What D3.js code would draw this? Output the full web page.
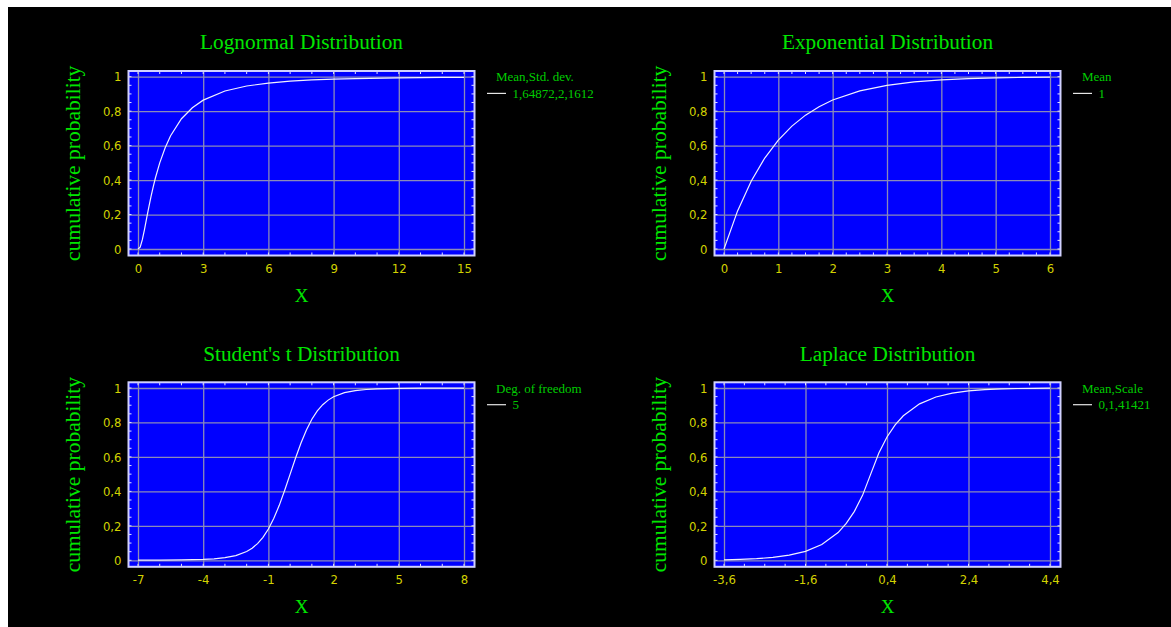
<!DOCTYPE html>
<html>
<head>
<meta charset="utf-8">
<script src="https://cdn.jsdelivr.net/npm/d3@7"></script>
<style>
  body { margin: 0; background: #fff; }
  svg { display: block; }
</style>
</head>
<body>
<div id="wrapper"></div>
<script>
// values
const titles = ['Lognormal Distribution', 'Exponential Distribution', "Student's t Distribution", 'Laplace Distribution'];
const legendTitles = ['Mean,Std. dev.', 'Mean', 'Deg. of freedom', 'Mean,Scale'];
const legendValues = ['1,64872,2,1612', '1', '5', '0,1,41421'];

const lognormalTicks = [0, 3, 6, 9, 12, 15];
const exponentialTicks = [0, 1, 2, 3, 4, 5, 6];
const studentTicks = [-7, -4, -1, 2, 5, 8];
const laplaceTicks = [-3.6, -1.6, 0.4, 2.4, 4.4];
const probTicks = [0, 0.2, 0.4, 0.6, 0.8, 1];

const lognormalPoints = [
  [0, 0], [0.1, 0.011], [0.2, 0.054], [0.3, 0.114], [0.4, 0.18], [0.5, 0.244],
  [0.6, 0.305], [0.7, 0.361], [0.8, 0.412], [1, 0.5], [1.25, 0.588], [1.5, 0.657],
  [2, 0.756], [2.5, 0.82], [3, 0.864], [4, 0.917], [5, 0.946], [6, 0.963],
  [7, 0.974], [8, 0.981], [9, 0.986], [10, 0.989], [12, 0.9935], [14, 0.996], [15, 0.9966]
];
const exponentialPoints = [
  [0, 0], [0.25, 0.221], [0.5, 0.393], [0.75, 0.528], [1, 0.632], [1.25, 0.713],
  [1.5, 0.777], [1.75, 0.826], [2, 0.865], [2.5, 0.918], [3, 0.95], [3.5, 0.97],
  [4, 0.982], [4.5, 0.989], [5, 0.993], [5.5, 0.996], [6, 0.9975]
];
const studentPoints = [
  [-7, 0.0005], [-6, 0.0009], [-5, 0.0021], [-4, 0.0052], [-3.5, 0.0087], [-3, 0.0151],
  [-2.5, 0.0272], [-2, 0.051], [-1.75, 0.0703], [-1.5, 0.097], [-1.25, 0.1333], [-1, 0.1816],
  [-0.75, 0.2435], [-0.5, 0.319], [-0.25, 0.4063], [0, 0.5], [0.25, 0.5937], [0.5, 0.681],
  [0.75, 0.7565], [1, 0.8184], [1.25, 0.8667], [1.5, 0.903], [1.75, 0.9297], [2, 0.949],
  [2.5, 0.9728], [3, 0.9849], [3.5, 0.9913], [4, 0.9948], [5, 0.9979], [6, 0.9991],
  [7, 0.9995], [8, 0.9998]
];
const laplacePoints = [
  [-3.6, 0.003], [-3.2, 0.0054], [-2.8, 0.0095], [-2.4, 0.0168], [-2, 0.0296],
  [-1.6, 0.052], [-1.2, 0.0916], [-0.8, 0.161], [-0.6, 0.214], [-0.4, 0.284],
  [-0.2, 0.377], [0, 0.5], [0.2, 0.623], [0.4, 0.716], [0.6, 0.786], [0.8, 0.839],
  [1.2, 0.908], [1.6, 0.948], [2, 0.97], [2.4, 0.983], [2.8, 0.99], [3.2, 0.9946],
  [3.6, 0.997], [4, 0.998], [4.4, 0.999]
];

const panels = [
  {ticks: lognormalTicks, minor: 1, points: lognormalPoints},
  {ticks: exponentialTicks, minor: 0.25, points: exponentialPoints},
  {ticks: studentTicks, minor: 1, points: studentPoints},
  {ticks: laplaceTicks, minor: 0.5, points: laplacePoints},
];

const width = 1171;
const height = 627;
const commaFormat = d => String(+d.toFixed(4)).replace('.', ',');

const svg = d3.select('#wrapper')
  .append('svg')
  .attr('width', width)
  .attr('height', height);

svg.append('rect')
  .attr('width', width).attr('height', height)
  .attr('fill', '#fff');
svg.append('rect')
  .attr('x', 8).attr('y', 7)
  .attr('width', width - 8).attr('height', height - 7)
  .attr('fill', '#000');

const serif = "'Liberation Serif', 'Times New Roman', serif";
const narrow = "'Liberation Sans Narrow', 'DejaVu Sans Condensed', 'Liberation Sans', sans-serif";

panels.forEach((p, i) => {
  const col = i % 2;
  const row = Math.floor(i / 2);
  const left = 128.5 + col * 586;
  const top = 71 + row * 311.3;
  const w = 346;
  const h = 184.5;

  const lo = p.ticks[0];
  const hi = p.ticks[p.ticks.length - 1];
  const x = d3.scaleLinear().domain([lo, hi]).range([left + 9.5, left + w - 10.5]);
  const y = d3.scaleLinear().domain([0, 1]).range([top + h - 6.5, top + 5.7]);

  const g = svg.append('g');

  g.append('rect')
    .attr('x', left).attr('y', top)
    .attr('width', w).attr('height', h)
    .attr('fill', '#0000ff');

  // grid lines
  g.append('g')
    .attr('transform', `translate(0,${top + h})`)
    .call(d3.axisBottom(x).tickValues(p.ticks).tickSize(-h).tickFormat(''))
    .call(a => a.select('.domain').remove())
    .call(a => a.selectAll('line').attr('stroke', '#8a8ab8').attr('stroke-width', 1.3));
  g.append('g')
    .attr('transform', `translate(${left},0)`)
    .call(d3.axisLeft(y).tickValues(probTicks).tickSize(-w).tickFormat(''))
    .call(a => a.select('.domain').remove())
    .call(a => a.selectAll('line').attr('stroke', '#8a8ab8').attr('stroke-width', 1.3));

  // minor ticks on the four edges, pointing inwards
  const nMinor = Math.round((hi - lo) / p.minor);
  const xMinor = d3.range(nMinor + 1).map(k => lo + k * p.minor);
  const yMinor = d3.range(21).map(k => k * 0.05);
  const tl = 3;
  const ticks = g.append('g')
    .attr('stroke', '#e0e0ff')
    .attr('stroke-width', 1);
  ticks.selectAll('line.xb')
    .data(xMinor).join('line').attr('class', 'xb')
    .attr('x1', d => x(d)).attr('x2', d => x(d))
    .attr('y1', top + h).attr('y2', top + h - tl);
  ticks.selectAll('line.xt')
    .data(xMinor).join('line').attr('class', 'xt')
    .attr('x1', d => x(d)).attr('x2', d => x(d))
    .attr('y1', top).attr('y2', top + tl);
  ticks.selectAll('line.yl')
    .data(yMinor).join('line').attr('class', 'yl')
    .attr('y1', d => y(d)).attr('y2', d => y(d))
    .attr('x1', left).attr('x2', left + tl);
  ticks.selectAll('line.yr')
    .data(yMinor).join('line').attr('class', 'yr')
    .attr('y1', d => y(d)).attr('y2', d => y(d))
    .attr('x1', left + w).attr('x2', left + w - tl);

  g.append('rect')
    .attr('x', left).attr('y', top)
    .attr('width', w).attr('height', h)
    .attr('fill', 'none')
    .attr('stroke', '#d0d0ff')
    .attr('stroke-width', 2);

  // curve
  const line = d3.line().x(d => x(d[0])).y(d => y(d[1]));
  g.append('path')
    .datum(p.points)
    .attr('d', line)
    .attr('fill', 'none')
    .attr('stroke', '#f0f0ff')
    .attr('stroke-width', 1.2);

  // tick labels
  g.append('g')
    .attr('transform', `translate(0,${top + h + 5})`)
    .call(d3.axisBottom(x).tickValues(p.ticks).tickSize(0).tickFormat(commaFormat))
    .call(a => a.select('.domain').remove())
    .call(a => a.selectAll('text')
      .attr('fill', '#d2d200')
      .attr('font-family', narrow)
      .attr('font-size', 13));
  g.append('g')
    .attr('transform', `translate(${left - 4},0)`)
    .call(d3.axisLeft(y).tickValues(probTicks).tickSize(0).tickFormat(commaFormat))
    .call(a => a.select('.domain').remove())
    .call(a => a.selectAll('text')
      .attr('fill', '#d2d200')
      .attr('font-family', narrow)
      .attr('font-size', 13));

  // titles
  g.append('text')
    .attr('x', left + w / 2)
    .attr('y', top - 29)
    .attr('dy', '0.35em')
    .attr('text-anchor', 'middle')
    .attr('fill', '#00e600')
    .attr('font-family', serif)
    .attr('font-size', 21.3)
    .text(titles[i]);

  g.append('text')
    .attr('transform', `translate(${left - 56},${top + h / 2}) rotate(-90)`)
    .attr('dy', '0.35em')
    .attr('text-anchor', 'middle')
    .attr('fill', '#00e600')
    .attr('font-family', serif)
    .attr('font-size', 21.5)
    .text('cumulative probability');

  g.append('text')
    .attr('x', left + w / 2)
    .attr('y', top + h + 40)
    .attr('dy', '0.35em')
    .attr('text-anchor', 'middle')
    .attr('fill', '#00e600')
    .attr('font-family', serif)
    .attr('font-size', 19)
    .text('X');

  // legend
  const lx = left + w;
  const ly = y(1);
  g.append('text')
    .attr('x', lx + 21.5).attr('y', ly)
    .attr('dy', '0.35em')
    .attr('fill', '#00cc00')
    .attr('font-family', serif)
    .attr('font-size', 13)
    .text(legendTitles[i]);
  g.append('line')
    .attr('x1', lx + 12.5).attr('x2', lx + 31.5)
    .attr('y1', ly + 16.7).attr('y2', ly + 16.7)
    .attr('stroke', '#e6e6e6')
    .attr('stroke-width', 1.2);
  g.append('text')
    .attr('x', lx + 38).attr('y', ly + 16.7)
    .attr('dy', '0.35em')
    .attr('fill', '#00cc00')
    .attr('font-family', serif)
    .attr('font-size', 13)
    .text(legendValues[i]);
});
</script>
</body>
</html>
